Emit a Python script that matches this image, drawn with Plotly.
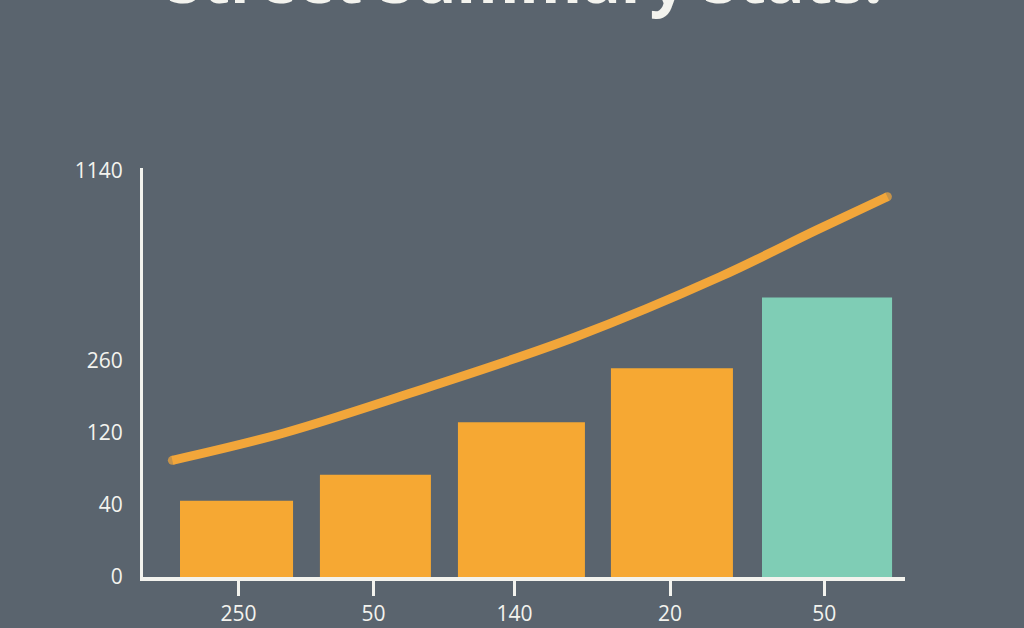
import plotly.graph_objects as go

# bar chart values (in axis units of the stretched y scale)
x_labels = ["250", "50", "140", "20", "50"]
bar_values = [1.06, 1.42, 2.15, 2.90, 3.88]
bar_colors = ["#f6a833", "#f6a833", "#f6a833", "#f6a833", "#7fcdb5"]

# trend curve
line_x = [-0.44, 0.32, 1.31, 2.30, 3.29, 3.95, 4.43]
line_y = [1.62, 2.00, 2.64, 3.33, 4.17, 4.82, 5.28]

y_ticktext = ["0", "40", "120", "260", "1140"]
y_tickvals = [0, 1, 2, 3, 5.64]

# title is mostly cut off at the top of the reference
title_text = "Street Summary Stats."

bg = "#5a646e"
fg = "#f3f3ee"

fig = go.Figure()
fig.add_trace(go.Bar(
    x=list(range(len(bar_values))), y=bar_values,
    # bars are not evenly spaced in the original
    width=[0.77, 0.756, 0.865, 0.831, 0.886],
    offset=[-0.388, -0.435, -0.495, -0.453, -0.424],
    marker=dict(color=bar_colors, line=dict(width=0)),
))
fig.add_trace(go.Scatter(
    x=line_x, y=line_y, mode="lines+markers",
    line=dict(color="#f2a63a", width=9, shape="spline"),
    marker=dict(color="#f2a63a", size=[9, 0, 0, 0, 0, 0, 9], line=dict(width=0)),
))

fig.add_annotation(
    text="<b>" + title_text + "</b>", xref="paper", yref="paper",
    x=0.5, y=1.352, yanchor="bottom", showarrow=False,
    font=dict(family="Open Sans", size=64, color=fg),
)

fig.update_layout(
    width=1024, height=628,
    paper_bgcolor=bg, plot_bgcolor=bg,
    margin=dict(l=143, r=119, t=168, b=51),
    showlegend=False,
    font=dict(family="Open Sans", size=21, color=fg),
    xaxis=dict(
        range=[-0.64, 4.55], showgrid=False, zeroline=False, automargin=False,
        showline=True, linecolor=fg, linewidth=4,
        tickvals=[0.01, 0.93, 1.89, 2.95, 4.0], ticktext=x_labels,
        ticks="outside", ticklen=15, tickwidth=3, tickcolor=fg,
        ticklabelstandoff=0,
    ),
    yaxis=dict(
        range=[0, 5.68], showgrid=False, zeroline=False, automargin=False,
        showline=True, linecolor=fg, linewidth=3,
        tickvals=y_tickvals, ticktext=y_ticktext, ticks="",
        ticklabelstandoff=13,
    ),
)

fig.write_html(
    "out.html",
    config={"displayModeBar": False},
    post_script="document.body.style.margin='0';document.body.style.overflow='hidden';",
)
